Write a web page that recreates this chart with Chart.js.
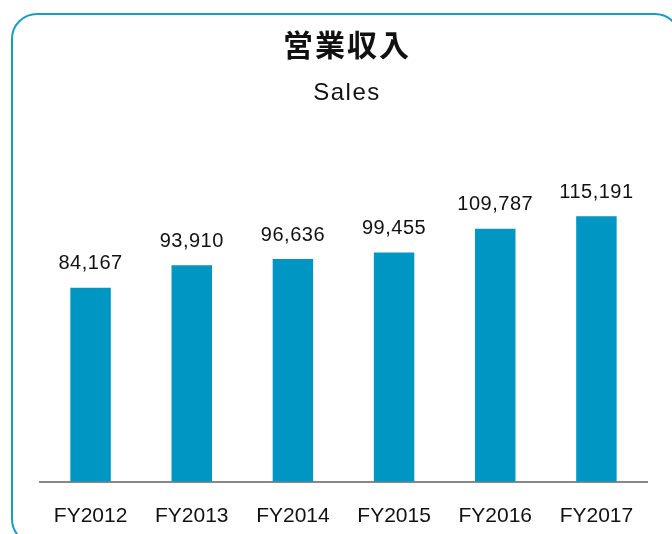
<!DOCTYPE html>
<html>
<head>
<meta charset="utf-8">
<script src="https://cdn.jsdelivr.net/npm/chart.js@4"></script>
<style>
  body { margin:0; background:#fff; }
  #wrap { position:relative; width:672px; height:534px; overflow:hidden; }
  #frame { position:absolute; left:11px; top:13px; width:670px; height:532px;
           border:2px solid #1a9cc4; border-radius:26px; box-sizing:border-box; }
  #chart { position:absolute; left:0; top:0; }
</style>
</head>
<body>
<div id="wrap">
  <div id="frame"></div>
  <canvas id="chart" width="672" height="543"></canvas>
</div>
<script>
// Données
const annees = ["FY2012","FY2013","FY2014","FY2015","FY2016","FY2017"];
const ventes = [84167, 93910, 96636, 99455, 109787, 115191];
const titre = "営業収入";
const sousTitre = "Sales";

const latin = "'Liberation Sans', Arial, sans-serif";

// titres + etiquettes au-dessus des barres
const textes = {
  id: "textes",
  afterDatasetsDraw(chart) {
    const ctx = chart.ctx;
    const meta = chart.getDatasetMeta(0);
    ctx.save();
    ctx.fillStyle = "#111";
    ctx.textAlign = "center";
    ctx.textBaseline = "middle";

    ctx.letterSpacing = "2px";
    ctx.font = "bold 30px 'Noto Sans CJK JP', sans-serif";
    ctx.fillText(titre, 347, 45);

    ctx.letterSpacing = "1.5px";
    ctx.font = "24px " + latin;
    ctx.fillText(sousTitre, 347, 93);

    ctx.letterSpacing = "0.5px";
    ctx.font = "20px " + latin;
    meta.data.forEach((bar, i) => {
      ctx.fillText(ventes[i].toLocaleString("en-US"), bar.x, bar.y - 24);
    });
    ctx.restore();
  }
};

new Chart(document.getElementById("chart"), {
  type: "bar",
  data: {
    labels: annees,
    datasets: [{
      data: ventes,
      backgroundColor: "#0096c3",
      categoryPercentage: 1,
      barPercentage: 0.4
    }]
  },
  options: {
    responsive: false,
    animation: false,
    layout: { padding: { left: 40, right: 25, top: 159, bottom: 0 } },
    plugins: {
      legend: { display: false },
      tooltip: { enabled: false }
    },
    scales: {
      x: {
        grid: { display: false },
        border: { color: "#888", width: 2 },
        ticks: { color: "#111", font: { family: latin, size: 21 }, padding: 14 }
      },
      y: {
        display: false,
        min: 0,
        max: 140000
      }
    }
  },
  plugins: [textes]
});
</script>
</body>
</html>
